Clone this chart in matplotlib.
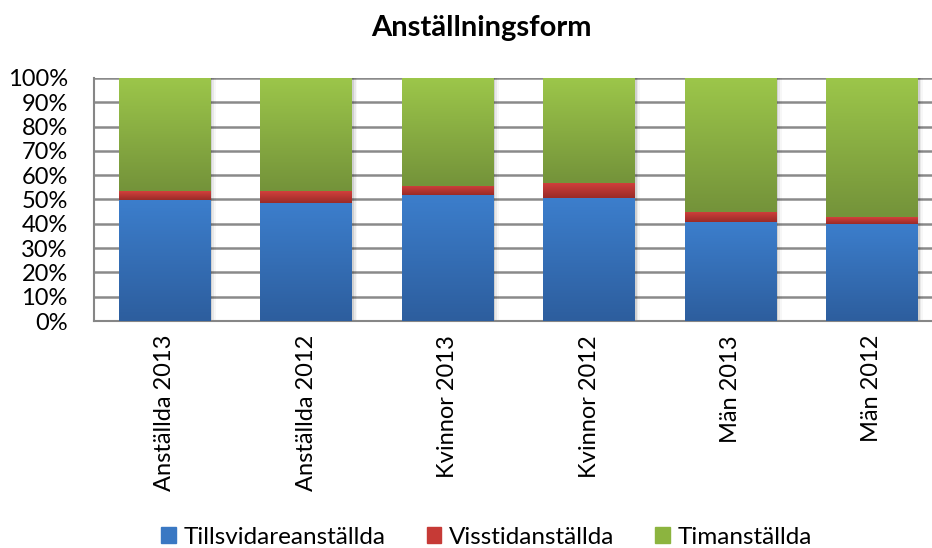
import matplotlib

matplotlib.use("Agg")
import matplotlib.pyplot as plt
import numpy as np
from matplotlib.colors import LinearSegmentedColormap
from matplotlib.patches import Patch, Rectangle

plt.rcParams["font.family"] = ["Lato", "DejaVu Sans"]

categories = ["Anställda 2013", "Anställda 2012", "Kvinnor 2013",
              "Kvinnor 2012", "Män 2013", "Män 2012"]
tillsvidare = [49.8, 48.6, 51.9, 50.6, 40.7, 40.0]
visstid = [3.7, 4.9, 3.8, 6.2, 4.2, 2.8]
timanst = [100 - a - b for a, b in zip(tillsvidare, visstid)]
series_names = ["Tillsvidareanställda", "Visstidanställda", "Timanställda"]
yticks = list(range(0, 101, 10))

# (bottom colour, top colour, legend colour) per series
shades = [("#2d5e9e", "#3c7ecc", "#3a78c3"),
          ("#9a2b28", "#d2403c", "#c63a36"),
          ("#74933a", "#9cc64a", "#8cb43f")]

fig = plt.figure(figsize=(9.32, 5.48), dpi=100)
ax = fig.add_axes([0.1009, 0.4142, 0.9106, 0.4435])

x = np.arange(len(categories))
width = 0.65
bottom = np.zeros(len(categories))
for vals, (lo, hi, _) in zip([tillsvidare, visstid, timanst], shades):
    vals = np.asarray(vals)
    bars = ax.bar(x, vals, width, bottom=bottom, color="none", zorder=3)
    cmap = LinearSegmentedColormap.from_list("g", [lo, hi])
    for p in bars:
        x0, y0, w, h = p.get_x(), p.get_y(), p.get_width(), p.get_height()
        # soft drop shadow to the right
        for k, a in enumerate([0.10, 0.06, 0.03]):
            ax.add_patch(Rectangle((x0 + w, y0), 0.012 * (k + 1), h,
                                   color="black", alpha=a, lw=0, zorder=2))
        grad = np.linspace(0, 1, 64).reshape(-1, 1)
        ax.imshow(grad, extent=[x0, x0 + w, y0, y0 + h], origin="lower",
                  cmap=cmap, aspect="auto", zorder=3, interpolation="bilinear")
    bottom += vals

ax.set_xlim(-0.5, len(categories) - 0.5)
ax.set_ylim(0, 100)
ax.set_yticks(yticks)
ax.set_yticklabels([f"{t}%" for t in yticks], fontsize=17)
ax.set_xticks(x)
ax.set_xticklabels(categories, rotation=90, fontsize=17)
ax.tick_params(axis="x", length=0, pad=10)
ax.tick_params(axis="y", length=0, pad=19)
ax.grid(axis="y", color="#8a8a8a", lw=1.8, zorder=0)
for s in ["top", "right"]:
    ax.spines[s].set_visible(False)
for s in ["left", "bottom"]:
    ax.spines[s].set_color("#868686")
    ax.spines[s].set_linewidth(1.5)

fig.text(0.517, 0.949, "Anställningsform", ha="center", va="center",
         fontsize=21, fontweight="bold")

handles = [Patch(color=c) for _, _, c in shades]
fig.legend(handles, series_names, loc="center", bbox_to_anchor=(0.522, 0.02),
           ncol=3, frameon=False, fontsize=17.5, handlelength=0.6,
           handleheight=0.6, handletextpad=0.3, columnspacing=1.7,
           borderpad=0)

fig.savefig("out.png", dpi=100)
